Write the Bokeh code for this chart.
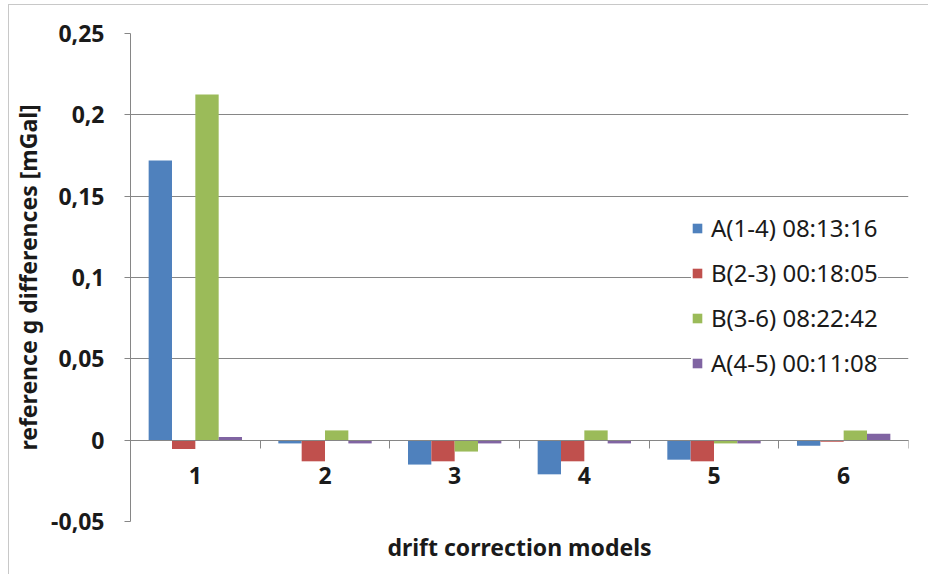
from bokeh.plotting import figure
from bokeh.models import (ColumnDataSource, FixedTicker, LinearAxis, Range1d,
                          Legend, LegendItem)
from bokeh.transform import dodge
from bokeh.embed import file_html
from bokeh.resources import INLINE

# ---- data ----
models = [1, 2, 3, 4, 5, 6]
model_labels = ["1", "2", "3", "4", "5", "6"]
series_names = ["A(1-4) 08:13:16", "B(2-3) 00:18:05", "B(3-6) 08:22:42", "A(4-5) 00:11:08"]
a_1_4 = [0.172, -0.002, -0.015, -0.021, -0.012, -0.0035]
b_2_3 = [-0.0055, -0.013, -0.013, -0.013, -0.013, -0.001]
b_3_6 = [0.2125, 0.006, -0.007, 0.006, -0.002, 0.006]
a_4_5 = [0.002, -0.002, -0.002, -0.002, -0.002, 0.004]
y_ticks = [-0.05, 0, 0.05, 0.1, 0.15, 0.2, 0.25]
y_tick_labels = ["-0,05", "0", "0,05", "0,1", "0,15", "0,2", "0,25"]
x_title = "drift correction models"
y_title = "reference g differences [mGal]"

colors = ["#4F81BD", "#C0504D", "#9BBB59", "#8064A2"]
cols = ["a_1_4", "b_2_3", "b_3_6", "a_4_5"]
offsets = [-0.27, -0.09, 0.09, 0.27]
bar_w = 0.18
grid_c = "#868686"
txt_c = "#1a1a1a"
font = "Noto Sans"

source = ColumnDataSource(dict(model=models, a_1_4=a_1_4, b_2_3=b_2_3,
                               b_3_6=b_3_6, a_4_5=a_4_5))

p = figure(width=920, height=570, output_backend="svg", toolbar_location=None,
           x_range=Range1d(models[0] - 0.5, models[-1] + 0.5),
           y_range=Range1d(y_ticks[0], y_ticks[-1]),
           x_axis_location=None,
           min_border_left=119, min_border_right=21, min_border_top=28,
           min_border_bottom=54)
p.styles = {"margin-left": "8px", "margin-top": "4px",
            "border-left": "1px solid #c8c8c8", "border-top": "1px solid #c8c8c8"}
p.outline_line_color = None
p.xgrid.visible = False
p.ygrid.ticker = FixedTicker(ticks=y_ticks)
p.ygrid.grid_line_color = grid_c
p.ygrid.grid_line_width = 1

renderers = []
for c, off, col in zip(cols, offsets, colors):
    r = p.vbar(x=dodge("model", off, range=p.x_range), top=c, bottom=0,
               width=bar_w, fill_color=col, line_color=None, source=source)
    renderers.append(r)

# y axis
ya = p.yaxis[0]
ya.ticker = FixedTicker(ticks=y_ticks)
ya.major_label_overrides = dict(zip(y_ticks, y_tick_labels))
ya.axis_line_color = grid_c
ya.major_tick_line_color = grid_c
ya.major_tick_out = 6
ya.major_tick_in = 0
ya.minor_tick_line_color = None
ya.major_label_text_font = font
ya.major_label_text_font_style = "bold"
ya.major_label_text_font_size = "23px"
ya.major_label_text_color = txt_c
ya.major_label_standoff = 20
ya.axis_label = y_title
ya.axis_label_text_font = font
ya.axis_label_text_font_style = "bold"
ya.axis_label_text_font_size = "23px"
ya.axis_label_text_color = txt_c
ya.axis_label_standoff = 4

# x axis at zero: labels at category centres
xa_lab = LinearAxis(fixed_location=0, ticker=FixedTicker(ticks=models),
                    major_label_overrides=dict(zip(models, model_labels)),
                    major_tick_line_color=None, major_tick_out=0, major_tick_in=0,
                    minor_tick_line_color=None, axis_line_color=grid_c,
                    major_label_text_font=font, major_label_text_font_style="bold",
                    major_label_text_font_size="23px",
                    major_label_text_color=txt_c, major_label_standoff=27)
p.add_layout(xa_lab, "below")

# x axis at zero: tick marks at category boundaries
bounds = [m - 0.5 for m in models] + [models[-1] + 0.5]
xa_tick = LinearAxis(fixed_location=0, ticker=FixedTicker(ticks=bounds),
                     major_label_overrides={b: "" for b in bounds},
                     major_tick_line_color=grid_c, major_tick_out=8, major_tick_in=0,
                     minor_tick_line_color=None, axis_line_color=grid_c)
p.add_layout(xa_tick, "below")

# x title (as a plain axis with no line/ticks/labels)
xa_title = LinearAxis(ticker=FixedTicker(ticks=[]), axis_line_color=None,
                      major_tick_line_color=None, minor_tick_line_color=None,
                      major_label_text_font_size="0px", major_tick_out=0,
                      axis_label=x_title, axis_label_text_font=font,
                      axis_label_text_font_style="bold",
                      axis_label_text_font_size="23px",
                      axis_label_text_color=txt_c, axis_label_standoff=9)
p.add_layout(xa_title, "below")

legend = Legend(items=[LegendItem(label=n, renderers=[r]) for n, r in zip(series_names, renderers)],
                location=(561, 142), glyph_width=12, glyph_height=12,
                label_text_font=font, label_text_font_size="24px",
                label_text_color=txt_c, label_height=24, spacing=12,
                padding=6, margin=0, label_standoff=8,
                border_line_color=None, background_fill_color="white",
                background_fill_alpha=1)
p.add_layout(legend)

open("out.html", "w").write(file_html(p, INLINE))
